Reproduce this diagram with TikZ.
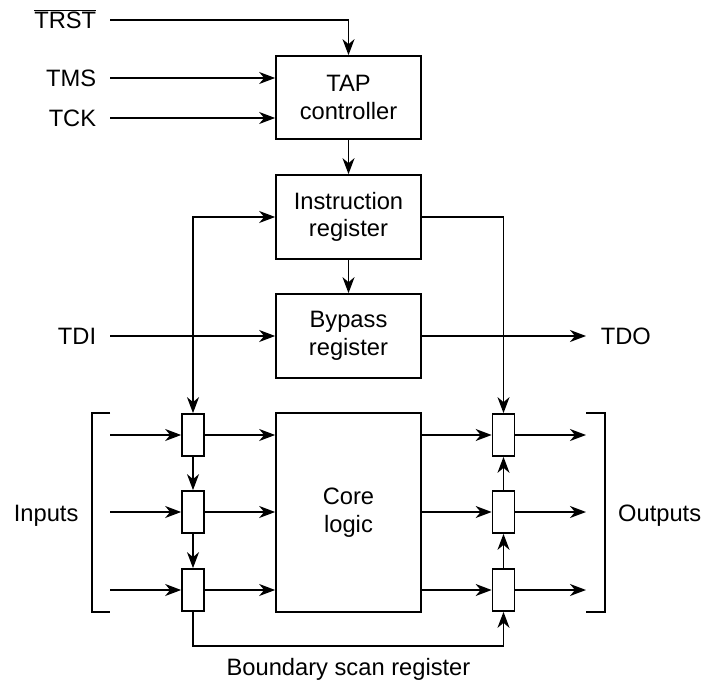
\documentclass[tikz,border=0pt]{standalone}
\usepackage{fontspec}
\setmainfont{Liberation Sans}
\usetikzlibrary{arrows.meta,calc}
\begin{document}
\begin{tikzpicture}[x=1pt,y=-1pt,
  line width=1.7pt,
  >={Stealth[length=16pt,width=12pt,inset=5pt]},
  every node/.style={font=\fontsize{23.7}{27.5}\selectfont, inner sep=0pt},
  blk/.style={draw, rectangle, minimum width=145pt, align=center},
  cell/.style={draw, rectangle, minimum width=22pt, minimum height=42pt},
  lbl/.style={anchor=base east}
]
\useasboundingbox (0,0) rectangle (705,682);

% main blocks
\node[blk, minimum height=83pt] (tap) at (348.5,97.5) {TAP\\controller};
\node[blk, minimum height=84pt] (ir) at (348.5,217) {Instruction\\register};
\node[blk, minimum height=84pt] (bp) at (348.5,336) {Bypass\\register};
\node[blk, minimum height=199pt] (core) at (348.5,512.5) {Core\\logic};

% boundary cells
\node[cell] (L1) at (193,435) {};
\node[cell] (L2) at (193,512) {};
\node[cell] (L3) at (193,590) {};
\node[cell] (R1) at (503.5,435) {};
\node[cell] (R2) at (503.5,512) {};
\node[cell] (R3) at (503.5,590) {};

% labels
\node[lbl] (trstl) at (97,28.5) {$\overline{\mbox{TRST}}$};
\node[lbl] (tmsl) at (97,86.5) {TMS};
\node[lbl] (tckl) at (97,126.5) {TCK};
\node[lbl] (tdil) at (97,344.5) {TDI};
\node[anchor=base west] (tdol) at (600,344.5) {TDO};
\node[anchor=base west] (inl) at (13,521) {Inputs};
\node[anchor=base east] (outl) at (702,521) {Outputs};
\node[anchor=base] (bsr) at (348.5,675) {Boundary scan register};

% input starting coordinates
\coordinate (trst) at (110,20);
\coordinate (tms) at (110,78);
\coordinate (tck) at (110,118);
\coordinate (tdi) at (110,336);
\coordinate (tdo) at (586,336);
\coordinate (bot) at (348.5,646);

% top connectors
\draw[->] (trst) -| (tap.north);
\draw[->] (tms) -- (tms -| tap.west);
\draw[->] (tck) -- (tck -| tap.west);
\draw[->] (tap.south) -- (ir.north);
\draw[->] (ir.south) -- (bp.north);
\draw[->] (tdi) -- (bp.west);
\draw[->] (bp.east) -- (tdo);
\draw[<->] (L1.north) |- (ir.west);
\draw[->] (ir.east) -| (R1.north);

% rows
\foreach \c in {L1,L2,L3}{
  \coordinate (in\c) at (110,0 |- \c);
  \draw[->] (in\c) -- (\c.west);
  \draw[->] (\c.east) -- (\c -| core.west);
}
\foreach \c in {R1,R2,R3}{
  \coordinate (out\c) at (586,0 |- \c);
  \draw[->] (\c -| core.east) -- (\c.west);
  \draw[->] (\c.east) -- (out\c);
}

% scan chain
\draw[->] (L1.south) -- (L2.north);
\draw[->] (L2.south) -- (L3.north);
\draw[->] (L3.south) |- (bot) -| (R3.south);
\draw[->] (R3.north) -- (R2.south);
\draw[->] (R2.north) -- (R1.south);

% brackets
\draw (110,413) -- (92,413) -- (92,612) -- (110,612);
\draw (586,413) -- (605,413) -- (605,612) -- (586,612);
\end{tikzpicture}
\end{document}
